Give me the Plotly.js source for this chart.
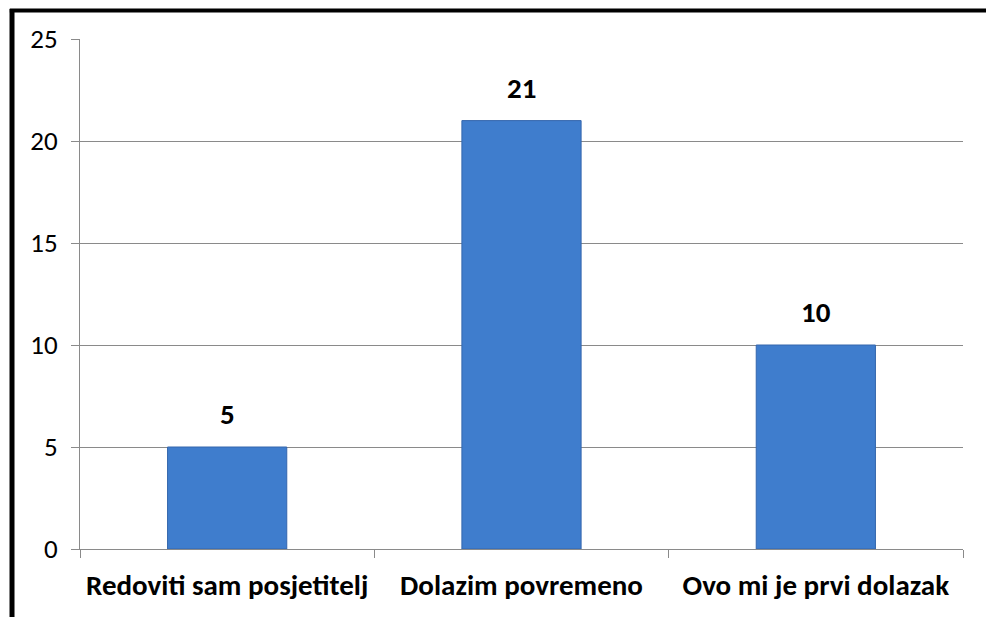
<!DOCTYPE html>
<html>
<head>
<meta charset="utf-8">
<script src="https://cdn.plot.ly/plotly-3.0.1.min.js"></script>
<style>html,body{margin:0;padding:0;background:#fff;}#chart{width:986px;height:617px;}</style>
</head>
<body>
<div id="chart"></div>
<script>
const categories = ["Redoviti sam posjetitelj", "Dolazim povremeno", "Ovo mi je prvi dolazak"];
const values = [5, 21, 10];
const yTicks = [0, 5, 10, 15, 20, 25];

const FONT = "Carlito, 'Open Sans', sans-serif";
const GRAY = "#8a8a8a";

const trace = {
  type: "bar",
  x: categories,
  y: values,
  width: 0.405,
  marker: { color: "#3f7dcd", line: { color: "#3466ad", width: 1 } },
  hoverinfo: "none"
};

const annotations = categories.map((c, i) => ({
  x: c, y: values[i], xref: "x", yref: "y",
  text: "<b>" + values[i] + "</b>",
  showarrow: false, yanchor: "bottom", yshift: 13,
  font: { family: FONT, size: 29, color: "#000" }
}));

const layout = {
  width: 986, height: 617,
  margin: { l: 80, r: 23, t: 39, b: 68 },
  paper_bgcolor: "#fff", plot_bgcolor: "#fff",
  showlegend: false,
  xaxis: {
    type: "category",
    showgrid: false, zeroline: false,
    showline: true, linecolor: GRAY, linewidth: 1,
    ticks: "outside", tickson: "boundaries", ticklen: 8, tickcolor: GRAY, tickwidth: 1,
    ticklabelstandoff: 10,
    tickfont: { family: FONT, size: 29, color: "#000", weight: "bold" }
  },
  yaxis: {
    range: [0, 25],
    tickvals: yTicks,
    showgrid: true, gridcolor: GRAY, gridwidth: 1,
    zeroline: false,
    showline: true, linecolor: GRAY, linewidth: 1,
    ticks: "outside", ticklen: 8, tickcolor: GRAY, tickwidth: 1,
    ticklabelstandoff: 8,
    tickfont: { family: FONT, size: 27, color: "#000" }
  },
  annotations: annotations,
  shapes: [
    { type: "line", xref: "paper", yref: "paper", x0: -0.0770, x1: -0.0770, y0: 1.0588, y1: -0.14, line: { color: "#000", width: 5 } },
    { type: "line", xref: "paper", yref: "paper", x0: -0.0795, x1: 1.03, y0: 1.0559, y1: 1.0559, line: { color: "#000", width: 4 } }
  ]
};

Plotly.newPlot("chart", [trace], layout, { displayModeBar: false, staticPlot: true });
</script>
</body>
</html>
